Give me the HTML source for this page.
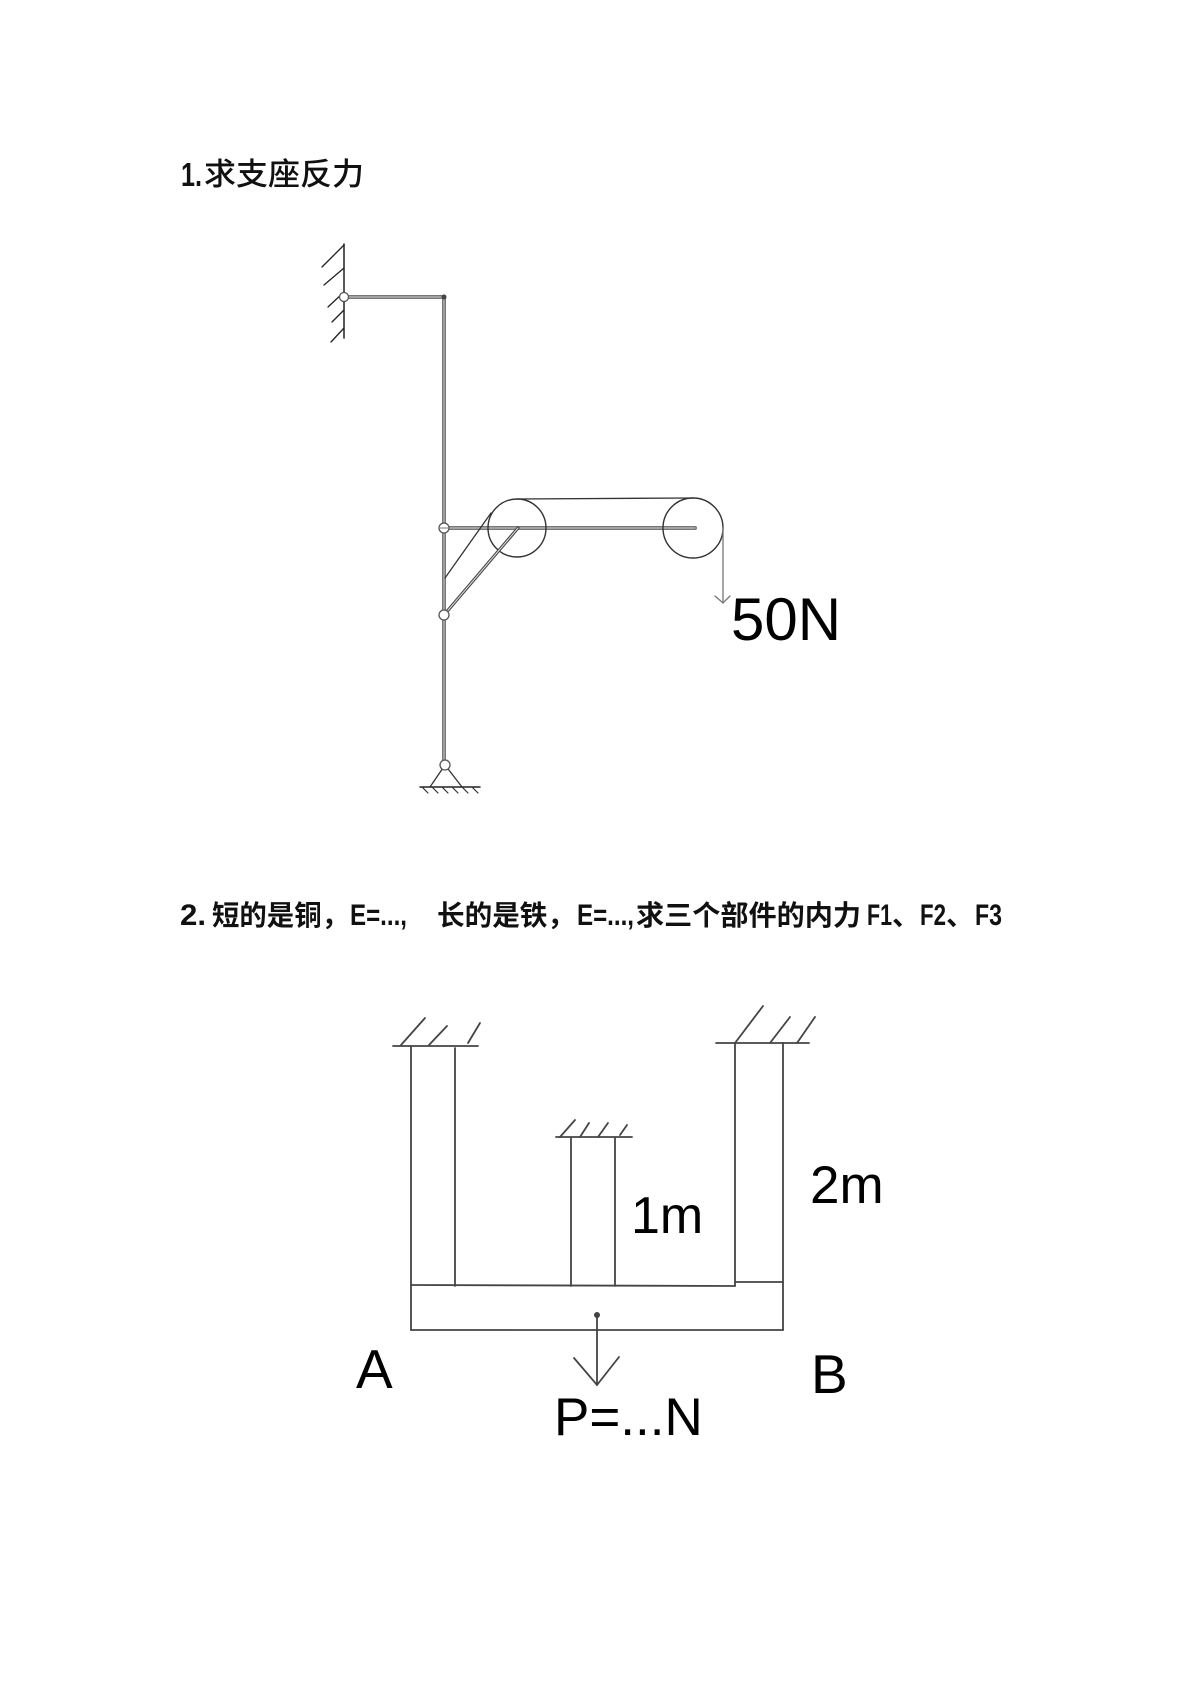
<!DOCTYPE html>
<html>
<head>
<meta charset="utf-8">
<style>
  html, body { margin:0; padding:0; background:#fff; }
  svg { display:block; }
  .cjk { font-family: "Liberation Sans", "Noto Sans CJK SC", sans-serif; }
  .lat { font-family: "Liberation Sans", sans-serif; }
</style>
</head>
<body>
<svg width="1190" height="1683" viewBox="0 0 1190 1683" xmlns="http://www.w3.org/2000/svg">
  <rect width="1190" height="1683" fill="#fff"/>

  <!-- Title 1 -->
  <text x="181" y="186" class="lat" font-size="33" font-weight="bold" fill="#111" textLength="21" lengthAdjust="spacingAndGlyphs">1.</text>
  <text x="204" y="185" class="cjk" font-size="31" font-weight="500" fill="#111" textLength="160" lengthAdjust="spacingAndGlyphs">求支座反力</text>

  <!-- Diagram 1 -->
  <g fill="none" stroke-linecap="round">
    <!-- wall -->
    <line x1="344" y1="244" x2="344" y2="338" stroke="#222" stroke-width="1.5"/>
    <g stroke="#222" stroke-width="1.3">
      <line x1="344" y1="245" x2="322" y2="267"/>
      <line x1="344" y1="268" x2="324" y2="285"/>
      <line x1="344" y1="292" x2="328" y2="307"/>
      <line x1="344" y1="310" x2="332" y2="322"/>
      <line x1="344" y1="328" x2="331" y2="342"/>
    </g>
    <!-- top horizontal bar -->
    <line x1="344" y1="297" x2="444" y2="297" stroke="#777" stroke-width="4"/>
    <line x1="344" y1="297" x2="444" y2="297" stroke="#bbb" stroke-width="1.2"/>
    <!-- vertical bar -->
    <line x1="444" y1="297" x2="444" y2="762" stroke="#777" stroke-width="4"/>
    <line x1="444" y1="297" x2="444" y2="762" stroke="#bbb" stroke-width="1.2"/>
    <circle cx="344" cy="297" r="4.5" stroke="#555" stroke-width="1.3" fill="#fff"/>
    <circle cx="444" cy="297" r="2.5" fill="#444" stroke="none"/>

    <!-- middle horizontal bar -->
    <line x1="444" y1="528" x2="695" y2="528" stroke="#777" stroke-width="4"/>
    <line x1="444" y1="528" x2="695" y2="528" stroke="#bbb" stroke-width="1.2"/>

    <!-- pulleys -->
    <circle cx="517" cy="528" r="29" stroke="#333" stroke-width="1.4"/>
    <circle cx="693" cy="528" r="30" stroke="#333" stroke-width="1.4"/>
    <!-- top rope -->
    <line x1="517" y1="499" x2="693" y2="498" stroke="#333" stroke-width="1.3"/>
    <!-- single diagonal -->
    <line x1="445" y1="578" x2="491" y2="513" stroke="#333" stroke-width="1.3"/>
    <!-- strut double line -->
    <line x1="444" y1="615" x2="518" y2="528" stroke="#444" stroke-width="3.2"/>
    <line x1="444" y1="615" x2="518" y2="528" stroke="#ddd" stroke-width="1"/>
    <!-- right rope with arrow -->
    <line x1="723" y1="528" x2="723" y2="603" stroke="#777" stroke-width="1.3"/>
    <polyline points="715,596 723,603 730,596" stroke="#777" stroke-width="1.3"/>

    <!-- pins -->
    <circle cx="444" cy="528" r="5" stroke="#555" stroke-width="1.3" fill="#fff"/>
    <line x1="439" y1="528" x2="449" y2="528" stroke="#777" stroke-width="1"/>
    <circle cx="444" cy="615" r="5" stroke="#555" stroke-width="1.3" fill="#fff"/>

    <!-- bottom support -->
    <line x1="445" y1="765" x2="430" y2="787" stroke="#333" stroke-width="1.3"/>
    <line x1="445" y1="765" x2="462" y2="787" stroke="#333" stroke-width="1.3"/>
    <circle cx="445" cy="765" r="5" stroke="#555" stroke-width="1.3" fill="#fff"/>
    <line x1="420" y1="787" x2="480" y2="787" stroke="#222" stroke-width="1.5"/>
    <g stroke="#333" stroke-width="1.2">
      <line x1="422" y1="787" x2="428" y2="793"/>
      <line x1="432" y1="787" x2="438" y2="793"/>
      <line x1="442" y1="787" x2="448" y2="793"/>
      <line x1="452" y1="787" x2="458" y2="793"/>
      <line x1="462" y1="787" x2="468" y2="793"/>
      <line x1="472" y1="787" x2="478" y2="793"/>
    </g>
  </g>
  <text x="731" y="640" class="lat" font-size="60" fill="#000">50N</text>

  <!-- Title 2 -->
  <text x="180" y="925" class="lat" font-size="30" font-weight="bold" fill="#111" textLength="26" lengthAdjust="spacingAndGlyphs">2.</text>
  <text x="212" y="925" class="cjk" font-size="28" font-weight="bold" fill="#111" textLength="137" lengthAdjust="spacingAndGlyphs">短的是铜，</text>
  <text x="350" y="925" class="lat" font-size="30" font-weight="bold" fill="#111" textLength="57" lengthAdjust="spacingAndGlyphs">E=...,</text>
  <text x="437" y="925" class="cjk" font-size="28" font-weight="bold" fill="#111" textLength="138" lengthAdjust="spacingAndGlyphs">长的是铁，</text>
  <text x="577" y="925" class="lat" font-size="30" font-weight="bold" fill="#111" textLength="57" lengthAdjust="spacingAndGlyphs">E=...,</text>
  <text x="636" y="925" class="cjk" font-size="28" font-weight="bold" fill="#111" textLength="225" lengthAdjust="spacingAndGlyphs">求三个部件的内力</text>
  <text x="867" y="925" class="lat" font-size="30" font-weight="bold" fill="#111" textLength="25" lengthAdjust="spacingAndGlyphs">F1</text>
  <text x="892" y="925" class="cjk" font-size="28" font-weight="bold" fill="#111">、</text>
  <text x="920" y="925" class="lat" font-size="30" font-weight="bold" fill="#111" textLength="26" lengthAdjust="spacingAndGlyphs">F2</text>
  <text x="946" y="925" class="cjk" font-size="28" font-weight="bold" fill="#111">、</text>
  <text x="975" y="925" class="lat" font-size="30" font-weight="bold" fill="#111" textLength="27" lengthAdjust="spacingAndGlyphs">F3</text>

  <!-- Diagram 2 -->
  <g fill="none" stroke="#444" stroke-width="1.8" stroke-linecap="round">
    <!-- left support -->
    <line x1="393" y1="1046" x2="478" y2="1046"/>
    <line x1="401" y1="1045" x2="425" y2="1018"/>
    <line x1="429" y1="1045" x2="447" y2="1026"/>
    <line x1="468" y1="1043" x2="480" y2="1023"/>
    <!-- middle support -->
    <line x1="556" y1="1137" x2="632" y2="1137"/>
    <line x1="560" y1="1137" x2="575" y2="1120"/>
    <line x1="580" y1="1137" x2="589" y2="1123"/>
    <line x1="598" y1="1137" x2="608" y2="1123"/>
    <line x1="620" y1="1135" x2="627" y2="1125"/>
    <!-- right support -->
    <line x1="716" y1="1043" x2="809" y2="1043"/>
    <line x1="735" y1="1043" x2="763" y2="1006"/>
    <line x1="770" y1="1043" x2="790" y2="1017"/>
    <line x1="797" y1="1043" x2="815" y2="1017"/>

    <!-- bars -->
    <line x1="411" y1="1046" x2="411" y2="1330"/>
    <line x1="455" y1="1048" x2="455" y2="1286"/>
    <line x1="571" y1="1138" x2="571" y2="1286"/>
    <line x1="615" y1="1138" x2="615" y2="1286"/>
    <line x1="735" y1="1043" x2="735" y2="1286"/>
    <line x1="783" y1="1043" x2="783" y2="1330"/>

    <!-- beam -->
    <line x1="411" y1="1285" x2="735" y2="1286"/>
    <line x1="735" y1="1282" x2="783" y2="1282"/>
    <line x1="411" y1="1330" x2="783" y2="1330"/>

    <!-- load arrow -->
    <line x1="597" y1="1315" x2="597" y2="1385"/>
    <polyline points="574,1358 597,1385 619,1357"/>
  </g>
  <circle cx="597" cy="1315" r="3" fill="#444"/>

  <text x="631" y="1233" class="lat" font-size="52" fill="#000">1m</text>
  <text x="810" y="1203" class="lat" font-size="53" fill="#000">2m</text>
  <text x="356" y="1388" class="lat" font-size="55" fill="#000">A</text>
  <text x="811" y="1393" class="lat" font-size="55" fill="#000">B</text>
  <text x="554" y="1435" class="lat" font-size="53" fill="#000">P=...N</text>
</svg>
</body>
</html>
